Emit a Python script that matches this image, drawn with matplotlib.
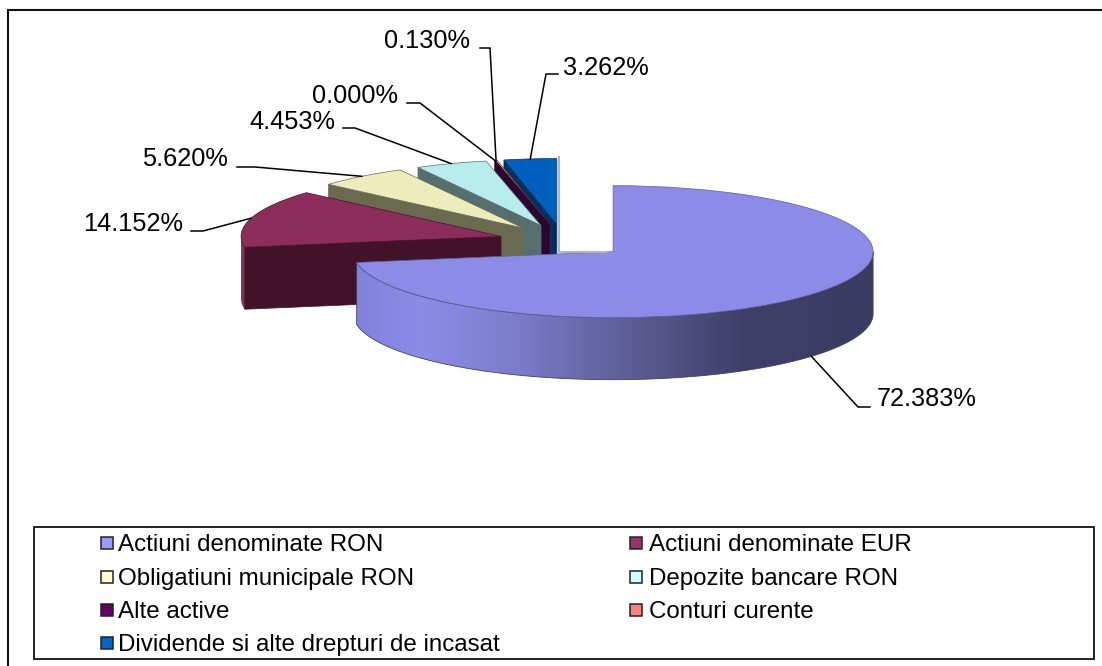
import numpy as np
from matplotlib import pyplot as plt
from matplotlib.colors import LinearSegmentedColormap
from matplotlib.patches import Polygon, Rectangle

plt.rcParams['font.family'] = ['Liberation Sans', 'DejaVu Sans']

# date din grafic
categorii = ['Actiuni denominate RON', 'Actiuni denominate EUR', 'Obligatiuni municipale RON',
             'Depozite bancare RON', 'Alte active', 'Conturi curente',
             'Dividende si alte drepturi de incasat']
valori = [72.383, 14.152, 5.620, 4.453, 0.000, 0.130, 3.262]
etichete = ['72.383%', '14.152%', '5.620%', '4.453%', '0.000%', '0.130%', '3.262%']

culori_sus = ['#8C8CE8', '#8C2D5C', '#ECECBC', '#B8ECEC', '#5A0A5A', '#F08080', '#0060C0']
culori_fata = ['#5E5E96', '#421328', '#6A6A50', '#566E6E', '#2E0530', '#703838', '#00305E']
culori_legenda = ['#9999FF', '#993366', '#FFFFCC', '#CCFFFF', '#660066', '#FF8080', '#0066CC']

# geometrie in pixeli
W, H = 1102, 666
CX, CY = 563.5, 241
RX, RY = 260, 66
ADANCIME = 62 / RY
EXPLODE = 0.25

# etichete: x text, y text, aliniere; apoi capatul liniei si cotul ei
text_x = [877, 183, 228, 335, 398, 470, 563]
text_y = [399, 224, 159, 122, 96, 41, 68]
text_ha = ['left', 'right', 'right', 'right', 'right', 'right', 'left']
linie_x = [870, 191, 237, 343, 407, 480, 558]
cot_x = [858, 203, 255, 355, 420, 490, 546]
linie_y = [407, 231, 167, 128, 103, 48, 74]

fig = plt.figure(figsize=(W / 100, H / 100), dpi=100)
ax = fig.add_axes([0, 0, 1, 1])

wedges, _ = ax.pie(valori, colors=culori_sus, startangle=90, counterclock=False,
                   explode=[EXPLODE] * len(valori), radius=1,
                   wedgeprops=dict(linewidth=0.5))
ax.set_aspect('auto')
xlim = (-CX / RX, (W - CX) / RX)
ylim = ((CY - H) / RY, CY / RY)


def arc(centru, t1, t2, n=120):
    t = np.radians(np.linspace(t1, t2, n))
    return np.column_stack([centru[0] + np.cos(t), centru[1] + np.sin(t)])


n = len(valori)
for i, w in enumerate(wedges):
    z = 10 + 3 * (n - i)
    w.set_zorder(z + 2)
    w.set_edgecolor(culori_fata[i])
    c = w.center
    # fata radiala vizibila: capatul cu unghi mai mare al feliei
    if i > 0:
        r = np.radians(w.theta2)
        p = (c[0] + np.cos(r), c[1] + np.sin(r))
        ax.add_patch(Polygon([c, p, (p[0], p[1] - ADANCIME), (c[0], c[1] - ADANCIME)],
                             closed=True, fc=culori_fata[i], ec=culori_fata[i], lw=0.5, zorder=z + 1))
    # peretele exterior al feliei EUR, doar ce depaseste 180 de grade
    if i == 1:
        sus = arc(c, 180, w.theta2 % 360)
        jos = sus[::-1] - [0, ADANCIME]
        ax.add_patch(Polygon(np.vstack([sus, jos]), closed=True, fc=culori_sus[i],
                             ec='none', zorder=z))

# peretele feliei mari cu gradient de la stanga la dreapta
mare = wedges[0]
sus = arc(mare.center, mare.theta1 + 360, 360, 300)
jos = sus[::-1] - [0, ADANCIME]
perete = Polygon(np.vstack([sus, jos]), closed=True, fc='none', ec='#40406A', lw=0.6,
                 zorder=mare.get_zorder() - 1)
harta = LinearSegmentedColormap.from_list('perete', [
    (0.00, '#8282DC'), (0.12, '#8C8CE8'), (0.30, '#7D7DCC'), (0.55, '#5A5A90'),
    (0.75, '#3E3E68'), (1.00, '#3C3C62')])
im = ax.imshow(np.linspace(0, 1, 256)[None, :], cmap=harta, aspect='auto',
               extent=(sus[:, 0].min(), sus[:, 0].max(), jos[:, 1].min(), sus[:, 1].max()),
               zorder=mare.get_zorder() - 1)
ax.add_patch(perete)
im.set_clip_path(perete)
ax.set_xlim(xlim)
ax.set_ylim(ylim)
ax.set_axis_off()

# strat in pixeli pentru chenare, etichete si legenda
px = fig.add_axes([0, 0, 1, 1], facecolor='none')
px.set_xlim(0, W)
px.set_ylim(H, 0)
px.set_axis_off()


def in_pixeli(x, y):
    return CX + RX * x, CY - RY * y


# chenarul mare iese din imagine in dreapta si jos
px.plot([8, 8, W], [H, 10, 10], color='#111111', lw=1.5, solid_joinstyle='miter')
px.add_patch(Rectangle((34, 526.5), 1060, 132, fc='none', ec='#111111', lw=1.3))

# umbra gri de langa felia albastra
px.plot([558.5, 558.5, 606], [157, 252, 252], color='#B4B4B4', lw=1.5, zorder=2)

# linii de ghidare de la marginea feliei la eticheta
for i, w in enumerate(wedges):
    tm = np.radians((w.theta1 + w.theta2) / 2)
    xs, ys = in_pixeli(w.center[0] + np.cos(tm), w.center[1] + np.sin(tm))
    if i == 0:
        ys += ADANCIME * RY
    px.plot([xs, cot_x[i], linie_x[i]], [ys, linie_y[i], linie_y[i]], color='black', lw=1.1,
            solid_joinstyle='miter', zorder=50)
    px.text(text_x[i], text_y[i], etichete[i], ha=text_ha[i], va='center', fontsize=18.3,
            color='black', zorder=51)

# legenda facuta de mana, ca in original
leg_x = [100.5, 630]
text_leg_x = [118, 649]
leg_y = [545, 579, 612, 645]
for i, nume in enumerate(categorii):
    col = i % 2
    rand = i // 2
    px.add_patch(Rectangle((leg_x[col], leg_y[rand] - 8.5), 12, 12, fc=culori_legenda[i],
                           ec='#222222', lw=1.1))
    px.text(text_leg_x[col], leg_y[rand], nume, ha='left', va='center', fontsize=17.4, color='black')

fig.savefig('out.png', dpi=100)
